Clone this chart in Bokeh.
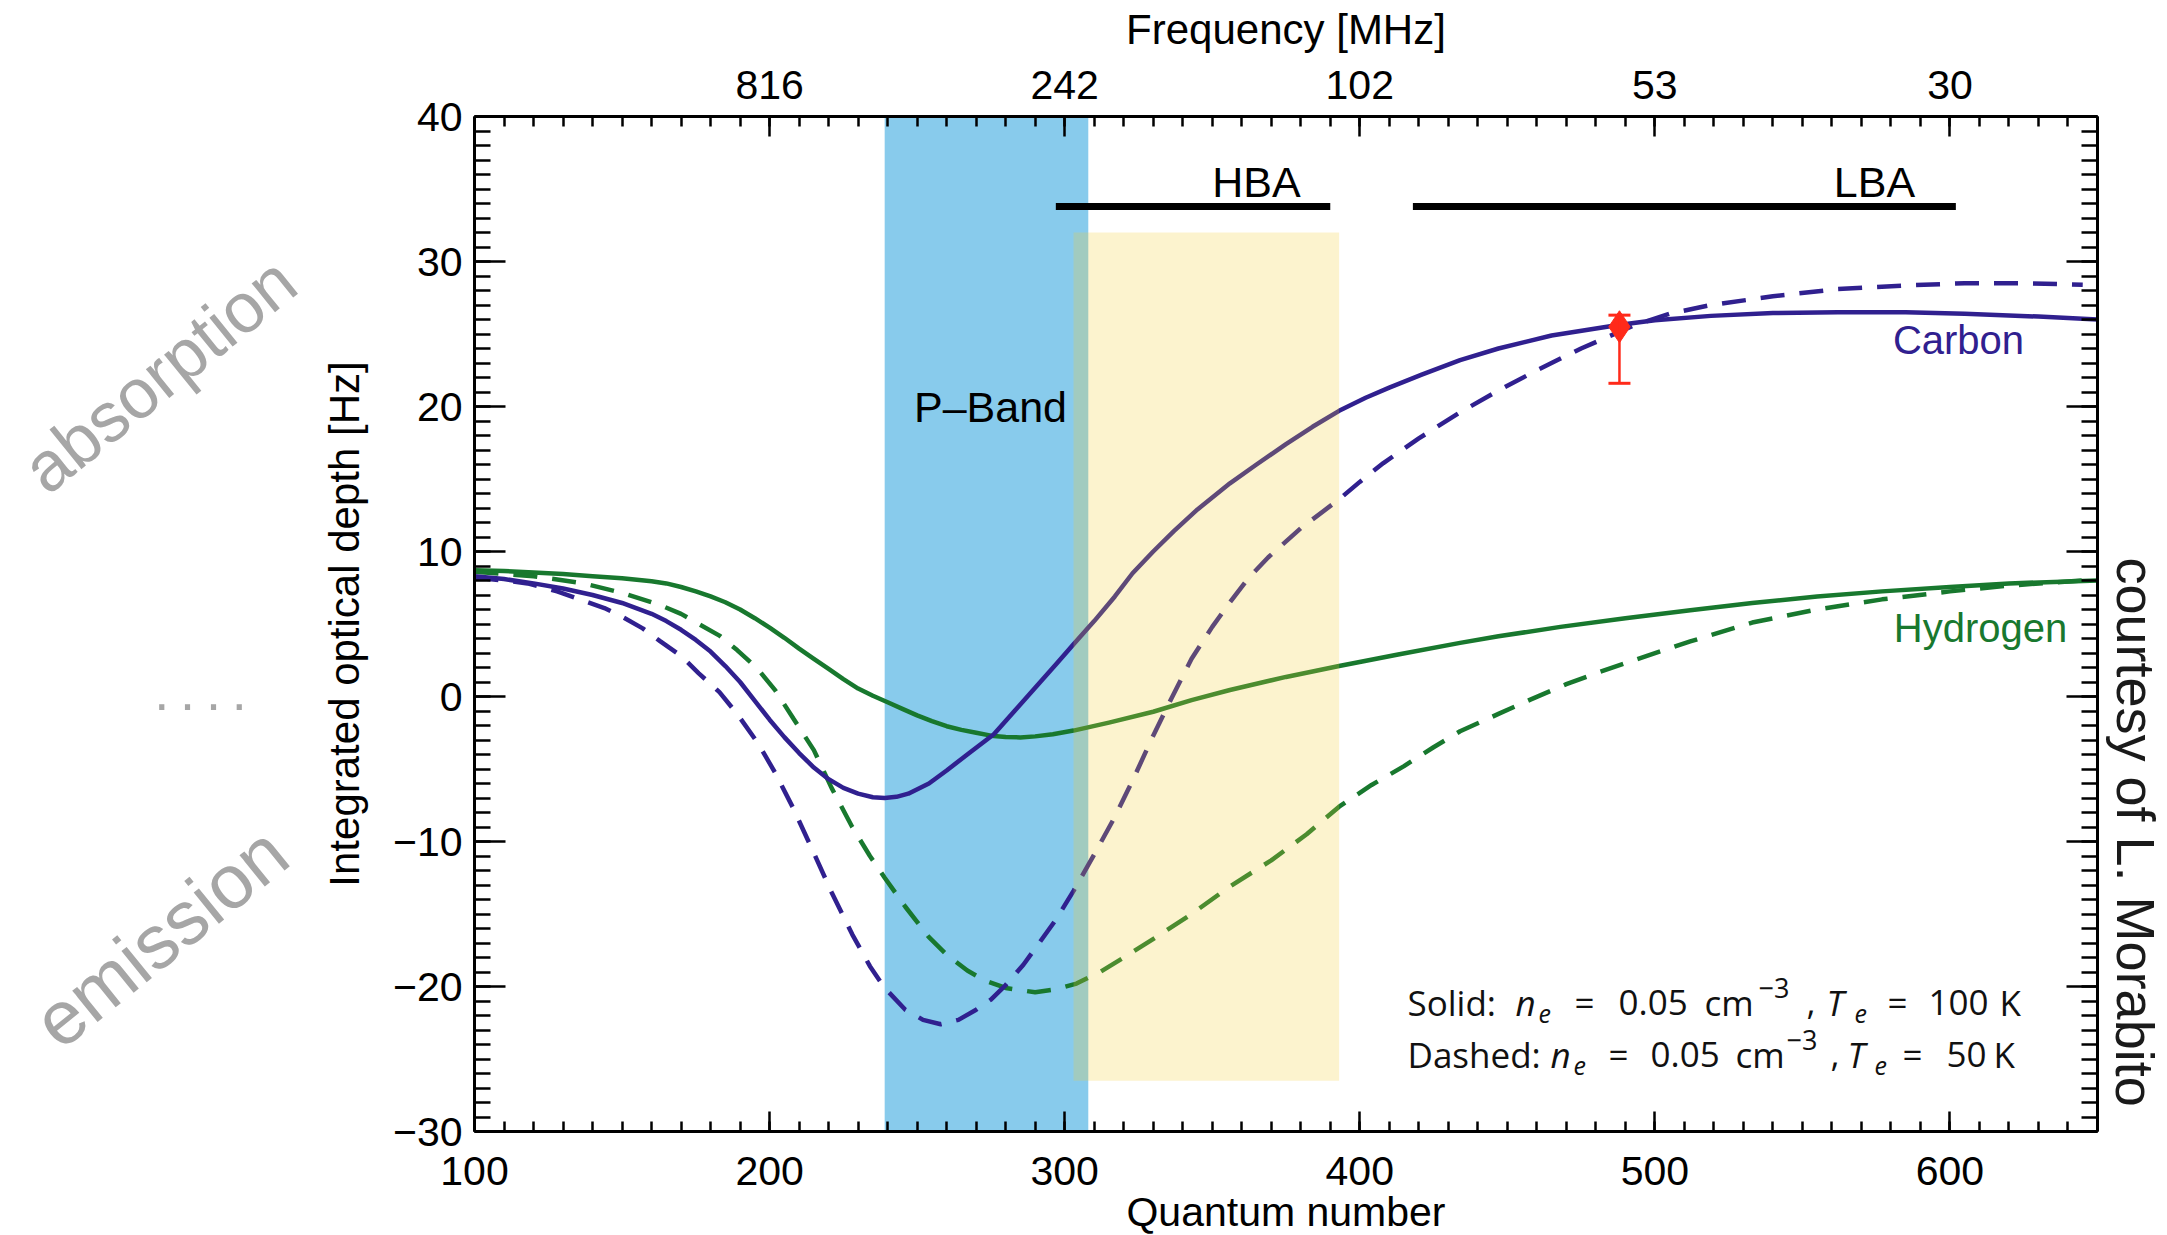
import math
from bokeh.plotting import figure
from bokeh.layouts import row
from bokeh.models import (Range1d, LinearAxis, FixedTicker, Label,
                          ColumnDataSource, Whisker, TeeHead)
from bokeh.core.properties import value
from bokeh.embed import file_html
from bokeh.resources import INLINE

# ---------------- data ----------------
QN_C100 = [100, 110, 120, 130, 140, 150, 160, 165, 170, 175, 180, 185, 190, 195, 200,
           205, 210, 215, 220, 225, 230, 235, 239, 243, 247, 254, 260, 267, 276, 283,
           290, 297, 303, 310, 317, 323, 330, 337, 345, 356, 365, 375, 384, 393, 402,
           410, 421, 434, 447, 465, 487, 500, 519, 540, 562, 585, 605, 630, 650]
TAU_C100 = [8.3, 8.1, 7.8, 7.45, 7.0, 6.45, 5.7, 5.2, 4.6, 3.9, 3.1, 2.1, 1.0, -0.3, -1.6,
            -2.8, -3.9, -4.9, -5.7, -6.3, -6.7, -6.95, -7.0, -6.92, -6.7, -6.0, -5.1, -4.0,
            -2.6, -1.0, 0.6, 2.2, 3.6, 5.2, 6.9, 8.5, 10.0, 11.4, 12.9, 14.7, 16.0, 17.4,
            18.6, 19.7, 20.6, 21.3, 22.2, 23.2, 24.0, 24.9, 25.6, 25.95, 26.25, 26.45,
            26.5, 26.5, 26.4, 26.2, 26.0]

QN_H100 = [100, 110, 120, 130, 140, 150, 160, 165, 170, 175, 180, 185, 190, 195, 200,
           205, 210, 215, 220, 225, 230, 235, 240, 245, 250, 255, 260, 265, 270, 275,
           280, 285, 290, 296, 303, 315, 330, 343, 356, 375, 393, 413, 434, 447, 468,
           490, 512, 533, 555, 577, 600, 620, 650]
TAU_H100 = [8.7, 8.65, 8.55, 8.45, 8.3, 8.15, 7.95, 7.8, 7.55, 7.25, 6.9, 6.5, 6.0, 5.4,
            4.75, 4.05, 3.3, 2.6, 1.9, 1.2, 0.55, 0.05, -0.4, -0.85, -1.3, -1.7, -2.05,
            -2.3, -2.5, -2.7, -2.8, -2.82, -2.75, -2.6, -2.35, -1.8, -1.05, -0.25, 0.45,
            1.35, 2.1, 2.9, 3.7, 4.15, 4.8, 5.4, 5.95, 6.45, 6.9, 7.25, 7.55, 7.8, 8.0]

QN_C50 = [100, 110, 118, 128, 137, 144, 150, 157, 163, 170, 176, 183, 189, 196, 202,
          208, 215, 221, 228, 234, 239, 246, 252, 258, 264, 270, 275, 280, 286, 291,
          297, 303, 310, 317, 323, 330, 336, 343, 350, 356, 362, 369, 380, 393, 400,
          408, 420, 434, 447, 460, 475, 493, 505, 519, 540, 562, 585, 605, 625, 645]
TAU_C50 = [8.2, 8.0, 7.8, 7.25, 6.6, 6.1, 5.5, 4.7, 3.8, 2.8, 1.6, 0.3, -1.2, -3.2, -5.3,
           -7.7, -10.8, -13.5, -16.4, -18.6, -20.1, -21.6, -22.3, -22.6, -22.3, -21.6,
           -20.9, -19.9, -18.5, -17.1, -15.4, -13.4, -10.9, -8.3, -5.8, -2.7, -0.2, 2.6,
           4.8, 6.5, 8.1, 9.6, 11.6, 13.6, 14.8, 16.1, 17.8, 19.6, 21.1, 22.5, 24.0, 25.6,
           26.4, 27.0, 27.6, 28.1, 28.35, 28.5, 28.5, 28.4]

QN_H50 = [100, 120, 137, 150, 163, 170, 176, 183, 189, 196, 202, 208, 215, 221, 228,
          234, 239, 246, 254, 260, 267, 273, 280, 290, 297, 304, 312, 320, 331, 343,
          356, 370, 382, 393, 404, 415, 425, 434, 447, 458, 470, 480, 490, 512, 533,
          555, 577, 600, 620, 645]
TAU_H50 = [8.6, 8.3, 7.8, 7.15, 6.3, 5.7, 5.0, 4.2, 3.2, 1.9, 0.4, -1.5, -3.7, -6.3,
           -9.0, -11.0, -12.5, -14.5, -16.6, -17.8, -18.9, -19.6, -20.1, -20.4, -20.2,
           -19.8, -19.0, -18.0, -16.6, -15.0, -13.1, -11.3, -9.5, -7.6, -6.1, -4.8, -3.5,
           -2.4, -1.2, -0.2, 0.85, 1.6, 2.3, 3.8, 5.1, 6.0, 6.7, 7.25, 7.65, 8.0]

OBS_QN = [488]
OBS_TAU = [25.5]
OBS_LO = [21.6]
OBS_HI = [26.3]

QN_TICKS = [100, 200, 300, 400, 500, 600]
FREQ_TICKS = [200, 300, 400, 500, 600]
FREQ_LABELS = ["816", "242", "102", "53", "30"]
Y_TICKS = [-30, -20, -10, 0, 10, 20, 30, 40]

PBAND = [239, 308]
HBA_BOX = [303, 393, -26.5, 32]
HBA_BAR = [297, 390]
LBA_BAR = [418, 602]
BAR_Y = 33.8

X_RANGE = (100, 650)
Y_RANGE = (-30, 40)

SIDE_TEXTS = ["absorption", ".\u2009.\u2009.\u2009.", "emission"]
CREDIT = "courtesy of L. Morabito"

# ---------------- styling ----------------
C_COL = "#30208F"
H_COL = "#18782E"
RED = "#FF2A1A"
GRAY = "#A6A6A6"
FONT = "Liberation Sans"

PAGE_H = 1235
LEFT_W = 313                             # left strip (gray side notes)
MAIN_RB = 6                              # main figure right border
RIGHT_W = 62                             # right strip (credit)
FL, FR, FT, FB = 474, 2097, 116, 1131    # frame edges in page pixels


def fx(px):
    return X_RANGE[0] + (px - FL) * (X_RANGE[1] - X_RANGE[0]) / (FR - FL)


def fy(py):
    return Y_RANGE[1] - (py - FT) * (Y_RANGE[1] - Y_RANGE[0]) / (FB - FT)


def strip(width, x0):
    f = figure(width=width, height=PAGE_H, x_range=Range1d(x0, x0 + width),
               y_range=Range1d(-FB, -FT), output_backend="svg",
               toolbar_location=None, x_axis_type=None, y_axis_type=None,
               min_border=0, outline_line_color=None,
               background_fill_color="white", border_fill_color="white")
    f.grid.visible = False
    return f


# ---------------- left strip with the gray side notes ----------------
side = strip(LEFT_W, 0)
side_src = ColumnDataSource(dict(
    x=[159, 200, 160], y=[-375, -692, -938],
    text=SIDE_TEXTS, angle=[math.radians(39), 0.0, math.radians(39)],
    size=["70px", "54px", "76px"]))
side.text(x="x", y="y", text="text", angle="angle", source=side_src,
          text_font=value(FONT), text_font_size="size", text_color=GRAY,
          text_align="center", text_baseline="middle")

# ---------------- right strip with the credit ----------------
rstrip = strip(RIGHT_W, FR + MAIN_RB)
rstrip.text(x=[2135], y=[-833], text=[CREDIT], angle=[-math.pi / 2],
            text_font=value(FONT), text_font_size="54px", text_color="#1A1A1A",
            text_align="center", text_baseline="middle")

# ---------------- main plot ----------------
p = figure(frame_width=FR - FL, frame_height=FB - FT,
           x_range=Range1d(*X_RANGE), y_range=Range1d(*Y_RANGE),
           output_backend="svg", toolbar_location=None,
           min_border_left=FL - LEFT_W, min_border_right=MAIN_RB,
           min_border_top=FT, min_border_bottom=PAGE_H - FB,
           background_fill_color="white", border_fill_color="white")
p.grid.visible = False
p.outline_line_color = None


def style_axis(ax, tin, tmin, size=41):
    ax.axis_line_width = 3
    ax.axis_line_color = "black"
    ax.major_tick_in = tin
    ax.major_tick_out = 0
    ax.minor_tick_in = tmin
    ax.minor_tick_out = 0
    ax.major_tick_line_width = 2.5
    ax.minor_tick_line_width = 2.5
    ax.major_tick_line_color = "black"
    ax.minor_tick_line_color = "black"
    ax.major_label_text_font = FONT
    ax.major_label_text_font_size = f"{size}px"
    ax.major_label_text_color = "black"
    ax.axis_label_text_font = FONT
    ax.axis_label_text_font_style = "normal"
    ax.axis_label_text_color = "black"


xminor = list(range(100, 651, 10))
yminor = list(range(-30, 41, 1))

bx = p.xaxis[0]
bx.ticker = FixedTicker(ticks=QN_TICKS, minor_ticks=xminor)
style_axis(bx, 20, 10)
bx.major_label_standoff = 25
bx.axis_label = "Quantum number"
bx.axis_label_text_font_size = "41px"
bx.axis_label_standoff = 1

ly = p.yaxis[0]
ly.ticker = FixedTicker(ticks=Y_TICKS, minor_ticks=yminor)
ly.major_label_overrides = {t: str(t).replace("-", "\u2212") for t in Y_TICKS}
style_axis(ly, 31, 16)
ly.major_label_standoff = 12
ly.axis_label = "Integrated optical depth [Hz]"
ly.axis_label_text_font_size = "42px"
ly.axis_label_standoff = 22

tx = LinearAxis(ticker=FixedTicker(ticks=FREQ_TICKS, minor_ticks=xminor),
                major_label_overrides=dict(zip(FREQ_TICKS, FREQ_LABELS)))
style_axis(tx, 20, 10)
tx.major_label_standoff = 18
tx.axis_label = "Frequency [MHz]"
tx.axis_label_text_font_size = "42px"
tx.axis_label_standoff = 15
p.add_layout(tx, "above")

ry = LinearAxis(ticker=FixedTicker(ticks=Y_TICKS, minor_ticks=yminor),
                major_label_overrides={t: "" for t in Y_TICKS})
style_axis(ry, 31, 16, size=1)
ry.major_label_standoff = 0
p.add_layout(ry, "right")

# ---------------- glyphs ----------------
p.quad(left=[PBAND[0]], right=[PBAND[1]], bottom=[Y_RANGE[0]], top=[Y_RANGE[1]],
       fill_color="#88CBEC", line_color=None)

LW = 4.5
DASH = "24 15"
p.line(QN_H100, TAU_H100, line_color=H_COL, line_width=LW, line_join="round")
p.line(QN_H50, TAU_H50, line_color=H_COL, line_width=LW, line_dash=DASH)
p.line(QN_C100, TAU_C100, line_color=C_COL, line_width=LW, line_join="round")
p.line(QN_C50, TAU_C50, line_color=C_COL, line_width=LW, line_dash=DASH)

p.quad(left=[HBA_BOX[0]], right=[HBA_BOX[1]], bottom=[HBA_BOX[2]], top=[HBA_BOX[3]],
       fill_color=(242, 203, 49), fill_alpha=0.24, line_color=None)

p.segment(x0=[HBA_BAR[0], LBA_BAR[0]], y0=[BAR_Y, BAR_Y],
          x1=[HBA_BAR[1], LBA_BAR[1]], y1=[BAR_Y, BAR_Y],
          line_color="black", line_width=7)

src = ColumnDataSource(dict(x=OBS_QN, y=OBS_TAU, lo=OBS_LO, hi=OBS_HI))
wh = Whisker(base="x", upper="hi", lower="lo", source=src,
             line_color=RED, line_width=2.5, level="annotation",
             upper_head=TeeHead(size=22, line_color=RED, line_width=3),
             lower_head=TeeHead(size=22, line_color=RED, line_width=3))
p.add_layout(wh)
p.scatter("x", "y", source=src, marker="diamond", size=32, color=RED)


# ---------------- texts inside the frame (y = vertical centre) ----------------
def lab(text, px, py, size, color="black", align="left", style="normal", font=FONT):
    p.add_layout(Label(x=fx(px), y=fy(py), text=text, text_font=font,
                       text_font_size=f"{size}px", text_color=color,
                       text_align=align, text_baseline="middle",
                       text_font_style=style))


lab("HBA", 1256, 181, 43, align="center")
lab("LBA", 1874, 181, 43, align="center")
lab("P\u2013Band", 990, 406, 43, align="center")
lab("Carbon", 1958, 339, 40, color=C_COL, align="center")
lab("Hydrogen", 1980, 627, 40, color=H_COL, align="center")

LEG_FONT = "Open Sans"
# (text, x, vertical offset from the line centre, size, style)
LEG1 = [("Solid:", 1407, 0, 35, "normal"), ("n", 1515, 0, 35, "italic"),
        ("e", 1538, 11, 25, "italic"), ("=", 1574, 0, 35, "normal"),
        ("0.05", 1618, 0, 35, "normal"), ("cm", 1704, 0, 35, "normal"),
        ("\u22123", 1758, -15, 27, "normal"), (",", 1806, 0, 35, "normal"),
        ("T", 1826, 0, 35, "italic"), ("e", 1854, 11, 25, "italic"),
        ("=", 1887, 0, 35, "normal"), ("100", 1928, 0, 35, "normal"),
        ("K", 1999, 0, 35, "normal")]
LEG2 = [("Dashed:", 1407, 0, 35, "normal"), ("n", 1550, 0, 35, "italic"),
        ("e", 1573, 11, 25, "italic"), ("=", 1608, 0, 35, "normal"),
        ("0.05", 1650, 0, 35, "normal"), ("cm", 1735, 0, 35, "normal"),
        ("\u22123", 1786, -15, 27, "normal"), (",", 1830, 0, 35, "normal"),
        ("T", 1847, 0, 35, "italic"), ("e", 1874, 11, 25, "italic"),
        ("=", 1902, 0, 35, "normal"), ("50", 1946, 0, 35, "normal"),
        ("K", 1993, 0, 35, "normal")]
for pieces, centre in ((LEG1, 1002), (LEG2, 1054)):
    for txt, px, dy, sz, st in pieces:
        lab(txt, px, centre + dy, sz, color="#111111", style=st, font=LEG_FONT)

layout = row(side, p, rstrip, spacing=0)
open("out.html", "w").write(file_html(layout, INLINE))
